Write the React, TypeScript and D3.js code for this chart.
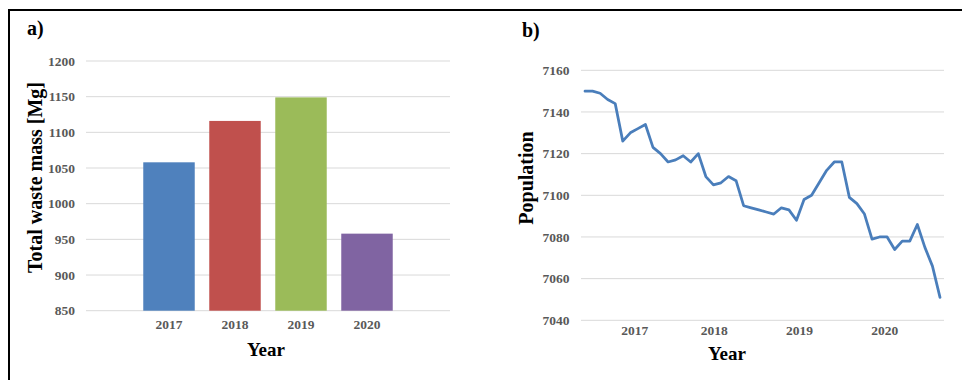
import React from "react";
import * as d3 from "d3";

// Panel a) – yearly total waste mass
const wasteYears = ["2017", "2018", "2019", "2020"];
const wasteMass = [1058, 1116, 1149, 958];
const wasteColors = ["#4F81BD", "#C0504D", "#9BBB59", "#8064A2"];
const wasteTicks = [850, 900, 950, 1000, 1050, 1100, 1150, 1200];

// Panel b) – monthly population
const population = [
  7150, 7150, 7149, 7146, 7144, 7126, 7130, 7132, 7134, 7123, 7120, 7116,
  7117, 7119, 7116, 7120, 7109, 7105, 7106, 7109, 7107, 7095, 7094, 7093,
  7092, 7091, 7094, 7093, 7088, 7098, 7100, 7106, 7112, 7116, 7116, 7099,
  7096, 7091, 7079, 7080, 7080, 7074, 7078, 7078, 7086, 7075, 7066, 7051,
];
const popTicks = [7040, 7060, 7080, 7100, 7120, 7140, 7160];
const yearLabels = ["2017", "2018", "2019", "2020"];
// positions of the year labels, in month-index units along the series
const yearLabelPos = [6.6, 17.1, 28.4, 39.7];

const FONT = "'Liberation Serif', 'Times New Roman', serif";
const TICK = "#595959";
const GRID = "#D9D9D9";
const TICK_SIZE = 13.5;

export default function App() {
  // panel a scales
  const ya = d3.scaleLinear().domain([850, 1200]).range([310.7, 61]);
  const xa = d3
    .scaleBand<string>()
    .domain(wasteYears)
    .range([136, 400])
    .paddingInner(0.22)
    .paddingOuter(0.11);

  // panel b scales
  const yb = d3.scaleLinear().domain([7040, 7160]).range([320.3, 70.3]);
  const xb = d3.scaleLinear().domain([0, population.length - 1]).range([585, 940]);
  const line = d3
    .line<number>()
    .x((_, i) => xb(i))
    .y((d) => yb(d));

  return (
    <svg
      width={962}
      height={380}
      style={{
        position: "absolute",
        left: 0,
        top: 0,
        background: "#fff",
        fontFamily: FONT,
        fontWeight: "bold",
      }}
    >
      <rect x={0} y={0} width={962} height={380} fill="#fff" />
      {/* frame */}
      <line x1={8} x2={962} y1={10} y2={10} stroke="#000" strokeWidth={2} />
      <line x1={9} x2={9} y1={9} y2={380} stroke="#000" strokeWidth={2} />

      {/* ---------- a) ---------- */}
      <text x={27} y={35} fontSize={20} fill="#000">a)</text>
      {wasteTicks.map((t) => (
        <g key={t}>
          <line x1={86} x2={450} y1={ya(t)} y2={ya(t)} stroke={GRID} strokeWidth={1} />
          <text x={75} y={ya(t)} dy="0.35em" textAnchor="end" fontSize={TICK_SIZE} fill={TICK}>
            {t}
          </text>
        </g>
      ))}
      {wasteYears.map((y, i) => (
        <rect
          key={y}
          x={xa(y)}
          y={ya(wasteMass[i])}
          width={xa.bandwidth()}
          height={ya(850) - ya(wasteMass[i])}
          fill={wasteColors[i]}
        />
      ))}
      {wasteYears.map((y) => (
        <text
          key={y}
          x={(xa(y) as number) + xa.bandwidth() / 2}
          y={324.5}
          dy="0.35em"
          textAnchor="middle"
          fontSize={TICK_SIZE}
          fill={TICK}
        >
          {y}
        </text>
      ))}
      <text x={266} y={356} textAnchor="middle" fontSize={19} fill="#000">
        Year
      </text>
      <text
        transform="translate(42,177.5) rotate(-90)"
        textAnchor="middle"
        fontSize={20}
        fill="#000"
      >
        Total waste mass [Mg]
      </text>

      {/* ---------- b) ---------- */}
      <text x={522} y={37} fontSize={20} fill="#000">b)</text>
      {popTicks.map((t) => (
        <g key={t}>
          <line x1={581} x2={944} y1={yb(t)} y2={yb(t)} stroke={GRID} strokeWidth={1} />
          <text x={569.5} y={yb(t)} dy="0.35em" textAnchor="end" fontSize={TICK_SIZE} fill={TICK}>
            {t}
          </text>
        </g>
      ))}
      <path
        d={line(population) ?? ""}
        fill="none"
        stroke="#4A7EBB"
        strokeWidth={2.75}
        strokeLinejoin="round"
        strokeLinecap="round"
      />
      {yearLabels.map((y, i) => (
        <text
          key={y}
          x={xb(yearLabelPos[i])}
          y={330.5}
          dy="0.35em"
          textAnchor="middle"
          fontSize={TICK_SIZE}
          fill={TICK}
        >
          {y}
        </text>
      ))}
      <text x={727} y={360} textAnchor="middle" fontSize={19} fill="#000">
        Year
      </text>
      <text
        transform="translate(533,178) rotate(-90)"
        textAnchor="middle"
        fontSize={20}
        fill="#000"
      >
        Population
      </text>
    </svg>
  );
}
